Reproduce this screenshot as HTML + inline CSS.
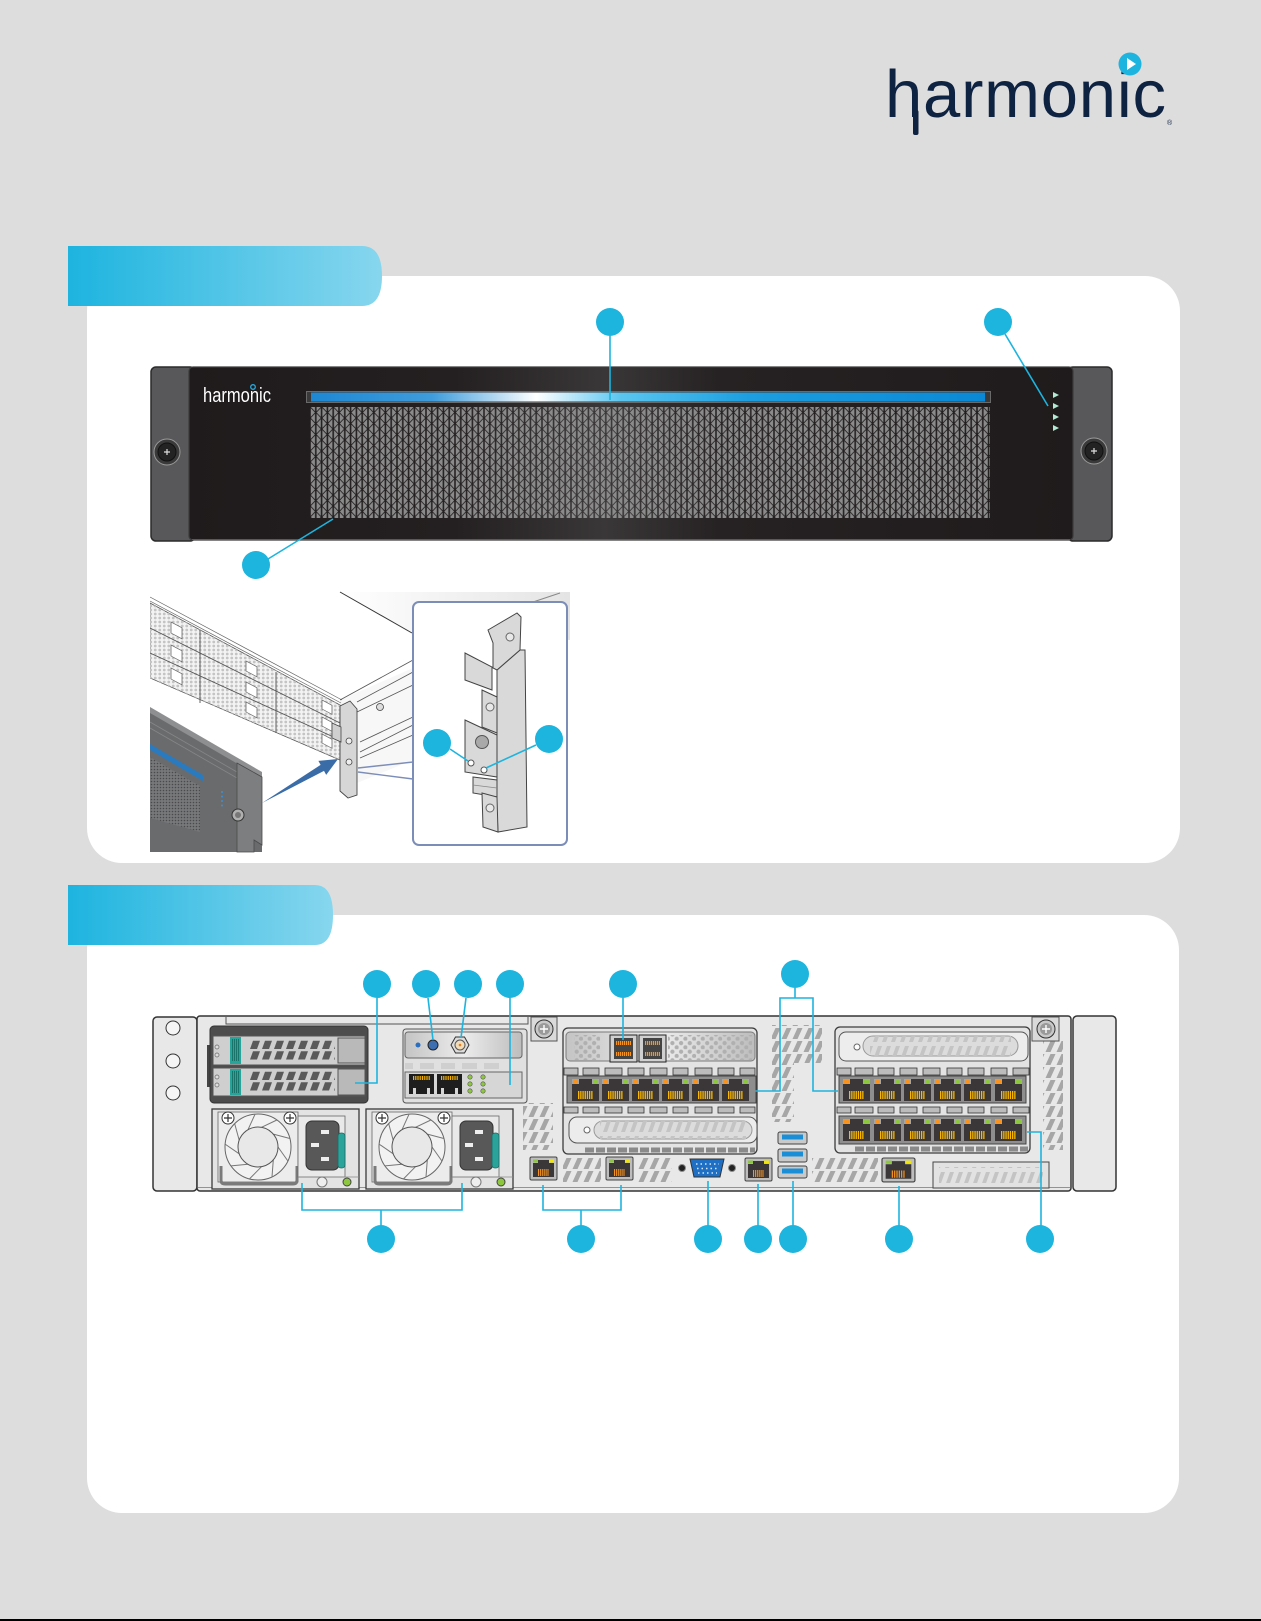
<!DOCTYPE html>
<html><head><meta charset="utf-8">
<style>html,body{margin:0;padding:0;background:#dddddd;}svg{display:block}</style>
</head>
<body>
<svg width="1261" height="1621" viewBox="0 0 1261 1621" xmlns="http://www.w3.org/2000/svg">
<defs>
 <linearGradient id="tab" x1="0" x2="1" y1="0" y2="0"><stop offset="0" stop-color="#1db4df"/><stop offset="1" stop-color="#87d6ee"/></linearGradient>
 <linearGradient id="panel" x1="0" x2="1" y1="0" y2="0">
  <stop offset="0" stop-color="#1f1b1c"/><stop offset="0.3" stop-color="#242021"/><stop offset="0.47" stop-color="#3a3738"/><stop offset="0.6" stop-color="#262223"/><stop offset="1" stop-color="#1f1b1c"/>
 </linearGradient>
 <linearGradient id="bar" x1="0" x2="1" y1="0" y2="0">
  <stop offset="0" stop-color="#1e88d4"/><stop offset="0.18" stop-color="#3f9cdc"/><stop offset="0.334" stop-color="#ffffff"/><stop offset="0.46" stop-color="#5ac6f0"/><stop offset="0.65" stop-color="#1c9ee0"/><stop offset="1" stop-color="#0a88d5"/>
 </linearGradient>
 <linearGradient id="plate" x1="0" x2="1" y1="0" y2="0">
  <stop offset="0" stop-color="#c4c4c4"/><stop offset="0.5" stop-color="#ececec"/><stop offset="1" stop-color="#bdbdbd"/>
 </linearGradient>
 <linearGradient id="topg" x1="0" x2="1" y1="0" y2="0">
  <stop offset="0" stop-color="#ffffff"/><stop offset="1" stop-color="#e4e4e4"/>
 </linearGradient>
 <pattern id="tri" patternUnits="userSpaceOnUse" x="310" y="407" width="11.6" height="11">
  <g fill="#8b8b8b">
   <polygon points="0.8,1.1 0.8,9.9 4.9,5.5"/>
   <polygon points="5.0,-4.4 5.0,4.4 0.9,0"/>
   <polygon points="5.0,6.6 5.0,15.4 0.9,11"/>
   <polygon points="6.6,-4.4 6.6,4.4 10.7,0"/>
   <polygon points="6.6,6.6 6.6,15.4 10.7,11"/>
   <polygon points="10.8,1.1 10.8,9.9 6.7,5.5"/>
  </g>
 </pattern>
 <pattern id="mesh" patternUnits="userSpaceOnUse" width="4.5" height="4">
  <circle cx="2.25" cy="2" r="1.4" fill="#c4c4c4"/>
 </pattern>
 <pattern id="bdots" patternUnits="userSpaceOnUse" width="3" height="3">
  <circle cx="1.5" cy="1.5" r="0.8" fill="#4a4a4c"/>
 </pattern>
 <pattern id="vent" patternUnits="userSpaceOnUse" width="11" height="13">
  <polygon points="0.5,12 5.5,1 10.5,1 5.5,12" fill="#a6a6a6"/>
 </pattern>
 <pattern id="bh" patternUnits="userSpaceOnUse" width="9" height="18">
  <polygon points="0,16 5,2 9,2 4,16" fill="#c4c4c4"/>
 </pattern>
 <pattern id="dslot" patternUnits="userSpaceOnUse" x="250" y="1040" width="12" height="10.5">
  <polygon points="0,9 3,0.8 10,0.8 7,9" fill="#5a5a5a"/>
 </pattern>
 <pattern id="dslot2" patternUnits="userSpaceOnUse" x="250" y="1071" width="12" height="10.5">
  <polygon points="0,9 3,0.8 10,0.8 7,9" fill="#5a5a5a"/>
 </pattern>
 <pattern id="qdots" patternUnits="userSpaceOnUse" width="8.7" height="8.6">
  <circle cx="2.5" cy="2.5" r="2.1" fill="#b0b0b0"/>
  <circle cx="6.8" cy="6.8" r="2.1" fill="#b0b0b0"/>
 </pattern>
 <g id="rj">
  <rect width="27" height="22" fill="#3b3738"/>
  <rect x="0" y="0" width="7" height="5" fill="#a6a6a6"/>
  <rect x="20" y="0" width="7" height="5" fill="#a6a6a6"/>
  <rect x="1" y="1" width="5" height="3" fill="#f7931e"/>
  <rect x="21" y="1" width="5" height="3" fill="#8dc63f"/>
  <line x1="6" y1="16" x2="21" y2="16" stroke="#fbb800" stroke-width="8" stroke-dasharray="1.3 0.9"/>
 </g>
 <g id="rjs">
  <rect width="27" height="23" rx="1.5" fill="#bdbdbd" stroke="#444" stroke-width="1"/>
  <path d="M3 6 H8 V3 H19 V6 H24 V20 H3 Z" fill="#3b3738"/>
  <rect x="3" y="2.5" width="5" height="3" fill="#8dc63f"/>
  <rect x="19" y="2.5" width="5" height="3" fill="#f2e600"/>
  <line x1="8" y1="15.5" x2="19" y2="15.5" stroke="#f7931e" stroke-width="7" stroke-dasharray="1 0.9"/>
 </g>
 <g id="psu">
  <rect x="0" y="0" width="147" height="80" fill="#e3e3e3" stroke="#3a3a3a" stroke-width="1.3"/>
  <rect x="6" y="3" width="80" height="70" fill="#ececec" stroke="#666" stroke-width="0.8"/>
  <circle cx="46" cy="38" r="33" fill="#f2f2f2" stroke="#666" stroke-width="1"/>
  <g stroke="#777" stroke-width="1" fill="none">
   <path d="M66 38 L75.9 52"/><path d="M61.3 50.9 L60 67.9"/><path d="M49.5 57.7 L37.5 69.9"/>
   <path d="M36 55.3 L19 56.9"/><path d="M27.2 44.8 L13.1 35.1"/><path d="M27.2 31.2 L22.7 14.7"/>
   <path d="M36 20.7 L43.1 5.1"/><path d="M49.5 18.3 L64.9 11"/><path d="M61.3 25.1 L77.9 29.5"/>
  </g>
  <circle cx="46" cy="38" r="20" fill="#e8e8e8" stroke="#555" stroke-width="1"/>
  <circle cx="16" cy="9" r="6" fill="#fff" stroke="#333"/>
  <path d="M12 9 H20 M16 5 V13" stroke="#333" stroke-width="1.2"/>
  <circle cx="78" cy="9" r="6" fill="#fff" stroke="#333"/>
  <path d="M74 9 H82 M78 5 V13" stroke="#333" stroke-width="1.2"/>
  <path d="M9 57 V71 Q9 75 13 75 H81 Q85 75 85 71 V57" stroke="#7a7a7a" stroke-width="3" fill="none"/>
  <rect x="86" y="7" width="47" height="61" fill="#e9e9e9" stroke="#666" stroke-width="0.8"/>
  <rect x="94" y="12" width="33" height="49" rx="6" fill="#585858" stroke="#333"/>
  <rect x="109" y="21" width="8" height="4" fill="#eee"/>
  <rect x="99" y="34" width="8" height="4" fill="#eee"/>
  <rect x="109" y="48" width="8" height="4" fill="#eee"/>
  <rect x="126" y="24" width="7" height="35" rx="3" fill="#2aa39a" stroke="#1d6b63" stroke-width="0.8"/>
  <line x1="86" y1="68" x2="147" y2="68" stroke="#888" stroke-width="0.8"/>
  <circle cx="110" cy="73" r="5" fill="#eee" stroke="#777"/>
  <circle cx="135" cy="73" r="4" fill="#8dc63f" stroke="#444"/>
 </g>
 <clipPath id="chclip"><rect x="150" y="585" width="420" height="277"/></clipPath>
</defs>

<!-- background -->
<rect x="0" y="0" width="1261" height="1621" fill="#dddddd"/>
<rect x="0" y="1619" width="1261" height="2" fill="#000"/>

<!-- main logo -->
<text x="885" y="117" font-family="Liberation Sans, sans-serif" font-size="67" fill="#0e2241" textLength="281" lengthAdjust="spacing">harmonic</text>
<rect x="913" y="110" width="5.5" height="25" rx="2" fill="#0e2241"/>
<circle cx="1130" cy="64" r="11.5" fill="#1db4df"/>
<polygon points="1127,58 1127,70 1136,64" fill="#fff"/>
<text x="1167" y="125" font-family="Liberation Sans, sans-serif" font-size="7" fill="#0e2241">®</text>

<!-- cards -->
<rect x="87" y="276" width="1093" height="587" rx="35" fill="#ffffff"/>
<rect x="87" y="915" width="1092" height="598" rx="35" fill="#ffffff"/>

<!-- tabs -->
<path d="M68 246 H362 Q382 246 382 276 Q382 306 362 306 H68 Z" fill="url(#tab)"/>
<path d="M68 885 H315 Q333 885 333 915 Q333 945 315 945 H68 Z" fill="url(#tab)"/>

<!-- ===== FRONT PANEL ===== -->
<rect x="151" y="367" width="44" height="174" rx="5" fill="#58585a" stroke="#2b2b2b" stroke-width="1.5"/>
<rect x="1068" y="367" width="44" height="174" rx="5" fill="#58585a" stroke="#2b2b2b" stroke-width="1.5"/>
<rect x="189" y="367" width="884" height="173" rx="4" fill="url(#panel)" stroke="#3c3c3c" stroke-width="1.2"/>
<line x1="192" y1="539.5" x2="1070" y2="539.5" stroke="#5a5a5a" stroke-width="1"/>
<circle cx="167" cy="452" r="13" fill="#3a3a3a" stroke="#9a9a9a" stroke-width="1"/>
<circle cx="167" cy="452" r="9" fill="#232323" stroke="#111"/>
<path d="M164 452h6M167 449v6" stroke="#ddd" stroke-width="1.2"/>
<circle cx="1094" cy="451" r="13" fill="#3a3a3a" stroke="#9a9a9a" stroke-width="1"/>
<circle cx="1094" cy="451" r="9" fill="#232323" stroke="#111"/>
<path d="M1091 451h6M1094 448v6" stroke="#ddd" stroke-width="1.2"/>
<text x="203" y="402" font-family="Liberation Sans, sans-serif" font-size="20" fill="#ffffff" textLength="68" lengthAdjust="spacingAndGlyphs">harmonic</text>
<circle cx="253" cy="387" r="2.3" fill="none" stroke="#29abe2" stroke-width="1.3"/>
<rect x="306.5" y="391.5" width="684" height="11" fill="#3a3a3a" stroke="#6a6a6a" stroke-width="1"/>
<rect x="311" y="392.5" width="674" height="9" fill="url(#bar)"/>
<rect x="310" y="407" width="680" height="111" fill="url(#tri)"/>
<g fill="#b3ead6">
 <polygon points="1053,392 1053,398 1059,395"/>
 <polygon points="1053,403 1053,409 1059,406"/>
 <polygon points="1053,414 1053,420 1059,417"/>
 <polygon points="1053,425 1053,431 1059,428"/>
</g>
<!-- front callouts -->
<g stroke="#1db4de" stroke-width="1.6" fill="none">
 <line x1="610" y1="336" x2="610" y2="400"/>
 <line x1="1005" y1="334" x2="1048" y2="406"/>
 <line x1="333" y1="519" x2="268" y2="559"/>
</g>
<g fill="#1db4de">
 <circle cx="610" cy="322" r="14"/>
 <circle cx="998" cy="322" r="14"/>
 <circle cx="256" cy="565" r="14"/>
</g>

<!-- ===== CHASSIS ILLUSTRATION ===== -->
<g clip-path="url(#chclip)">
 <polygon points="340,592 570,592 570,640 410,633" fill="url(#topg)"/>
 <line x1="340" y1="592" x2="412" y2="633" stroke="#333" stroke-width="1"/>
 <line x1="533" y1="602" x2="560" y2="593" stroke="#888" stroke-width="1"/>
 <polygon points="340,700 413,668 413,760 340,790" fill="#f7f7f7"/>
 <g stroke="#555" stroke-width="0.8">
  <line x1="357" y1="702" x2="413" y2="672"/>
  <line x1="357" y1="712" x2="413" y2="685"/>
  <line x1="360" y1="742" x2="413" y2="717"/>
  <line x1="360" y1="752" x2="413" y2="725"/>
  <line x1="360" y1="758" x2="413" y2="735"/>
  <line x1="340" y1="700" x2="413" y2="660"/>
 </g>
 <circle cx="380" cy="707" r="3.5" fill="#ddd" stroke="#444" stroke-width="0.8"/>
 <g stroke="#666" stroke-width="0.7">
  <line x1="150" y1="597" x2="342" y2="700"/>
  <line x1="150" y1="601" x2="341" y2="703"/>
 </g>
 <polygon points="150,603 340,705 340,760 150,678" fill="#f3f3f3" stroke="#555" stroke-width="0.8"/>
 <polygon points="150,603 340,705 340,760 150,678" fill="url(#mesh)"/>
 <g stroke="#555" stroke-width="0.9">
  <line x1="150" y1="628" x2="340" y2="723"/>
  <line x1="150" y1="653" x2="340" y2="740"/>
  <line x1="200" y1="630" x2="200" y2="703"/>
  <line x1="276" y1="672" x2="276" y2="733"/>
 </g>
 <g fill="#ffffff" stroke="#666" stroke-width="0.8">
  <rect transform="translate(171,622) skewY(28)" width="11" height="11"/>
  <rect transform="translate(171,645) skewY(28)" width="11" height="11"/>
  <rect transform="translate(171,668) skewY(28)" width="11" height="11"/>
  <rect transform="translate(246,661) skewY(28)" width="11" height="10"/>
  <rect transform="translate(246,682) skewY(28)" width="11" height="10"/>
  <rect transform="translate(246,702) skewY(28)" width="11" height="10"/>
  <rect transform="translate(322,700) skewY(28)" width="10" height="9"/>
  <rect transform="translate(322,717) skewY(28)" width="10" height="9"/>
  <rect transform="translate(322,734) skewY(28)" width="10" height="9"/>
 </g>
 <polygon points="340,706 350,701 357,709 357,795 348,798 340,791" fill="#d6d6d6" stroke="#444" stroke-width="0.9"/>
 <polygon points="332,723 341,727 341,742 332,738" fill="#cfcfcf" stroke="#444" stroke-width="0.8"/>
 <circle cx="349" cy="741" r="3" fill="#eee" stroke="#444" stroke-width="0.8"/>
 <circle cx="349" cy="762" r="3" fill="#eee" stroke="#444" stroke-width="0.8"/>
 <polygon points="150,711 262,776 262,852 150,852" fill="#6a6b6d"/>
 <polygon points="150,707 262,772 262,778 150,713" fill="#8e8f91"/>
 <line x1="150" y1="722" x2="237" y2="772" stroke="#858688" stroke-width="0.8"/>
 <line x1="150" y1="728" x2="237" y2="778" stroke="#858688" stroke-width="0.8"/>
 <polygon points="237,763 262,777 262,845 254,840 254,852 237,852" fill="#7d7e80" stroke="#4a4a4a" stroke-width="0.8"/>
 <polygon points="150,744 203,775 203,781 150,750" fill="#2a7abf"/>
 <polygon points="150,757 200,786 200,832 150,818" fill="#77787a"/>
 <polygon points="150,757 200,786 200,832 150,818" fill="url(#bdots)"/>
 <g fill="#3b8fd6">
  <circle cx="222" cy="792" r="1"/><circle cx="222" cy="796.5" r="1"/><circle cx="222" cy="801" r="1"/><circle cx="222" cy="805.5" r="1"/>
 </g>
 <circle cx="238" cy="815" r="6" fill="#b0b0b0" stroke="#333" stroke-width="1"/>
 <circle cx="238" cy="815" r="3" fill="#777"/>
 <polygon points="262,803 320.6,764.9 318.4,760.9 338,759 326.2,774.9 324,770.9" fill="#3a6da8"/>
 <line x1="358" y1="768" x2="413" y2="762" stroke="#7c8db8" stroke-width="1.4"/>
 <line x1="358" y1="772" x2="413" y2="779" stroke="#7c8db8" stroke-width="1.4"/>
</g>

<!-- inset box -->
<rect x="413" y="602" width="154" height="243" rx="6" fill="#ffffff" stroke="#7c8db8" stroke-width="2"/>
<g fill="#d9d9d9" stroke="#444" stroke-width="1">
 <polygon points="497,670 520,650 525,650 527,827 498,832 497,813"/>
 <polygon points="488,630 517,613 521,617 520,650 497,670 493,668 493,643"/>
 <polygon points="465,653 492,667 492,690 465,680"/>
 <polygon points="482,690 497,697 497,733 482,727"/>
 <polygon points="465,720 497,735 497,777 465,772"/>
 <polygon points="473,777 497,780 497,797 473,793"/>
 <polygon points="482,793 497,797 498,832 483,827"/>
</g>
<circle cx="482" cy="742" r="6.5" fill="#a9a9a9" stroke="#555"/>
<circle cx="471" cy="763" r="3" fill="#fff" stroke="#555"/>
<circle cx="484" cy="770" r="3" fill="#fff" stroke="#555"/>
<circle cx="490" cy="707" r="4" fill="#e8e8e8" stroke="#666"/>
<circle cx="490" cy="808" r="4" fill="#e8e8e8" stroke="#666"/>
<circle cx="510" cy="637" r="4" fill="#e8e8e8" stroke="#666"/>
<line x1="473" y1="785" x2="497" y2="788" stroke="#888" stroke-width="0.8"/>
<g stroke="#1db4de" stroke-width="1.6">
 <line x1="450" y1="749" x2="468" y2="761"/>
 <line x1="536" y1="745" x2="486" y2="768"/>
</g>
<circle cx="437" cy="743" r="14" fill="#1db4de"/>
<circle cx="549" cy="739" r="14" fill="#1db4de"/>

<!-- ===== REAR PANEL ===== -->
<rect x="153" y="1017" width="44" height="174" rx="4" fill="#e8e8e8" stroke="#333" stroke-width="1.5"/>
<g fill="#f5f5f5" stroke="#333" stroke-width="1">
 <circle cx="173" cy="1028" r="7"/><circle cx="173" cy="1061" r="7"/><circle cx="173" cy="1093" r="7"/>
</g>
<rect x="197" y="1016" width="874" height="175" rx="3" fill="#e8e8e8" stroke="#333" stroke-width="1.5"/>
<line x1="198" y1="1187.5" x2="1070" y2="1187.5" stroke="#777" stroke-width="0.8"/>
<rect x="1073" y="1016" width="43" height="175" rx="4" fill="#e8e8e8" stroke="#333" stroke-width="1.5"/>
<path d="M226 1017 V1024 H528 V1017" fill="none" stroke="#555" stroke-width="1"/>

<!-- vents -->
<rect x="523" y="1103" width="30" height="47" fill="url(#vent)"/>
<rect x="563" y="1157" width="38" height="26" fill="url(#vent)"/>
<rect x="638" y="1157" width="34" height="26" fill="url(#vent)"/>
<rect x="772" y="1025" width="50" height="38" fill="url(#vent)"/>
<rect x="772" y="1063" width="22" height="59" fill="url(#vent)"/>
<rect x="812" y="1157" width="66" height="26" fill="url(#vent)"/>
<rect x="1043" y="1040" width="20" height="110" fill="url(#vent)"/>

<!-- drive cage -->
<rect x="207" y="1045" width="6" height="42" fill="#444"/>
<rect x="210" y="1026" width="158" height="77" rx="4" fill="#4d4d4d" stroke="#333"/>
<rect x="213" y="1036" width="152" height="29" fill="#cfcfcf" stroke="#555"/>
<rect x="213" y="1068" width="152" height="28" fill="#cfcfcf" stroke="#555"/>
<g fill="#ddd" stroke="#666" stroke-width="0.7">
 <circle cx="217" cy="1047" r="2"/><circle cx="217" cy="1055" r="2"/>
 <circle cx="217" cy="1077" r="2"/><circle cx="217" cy="1085" r="2"/>
</g>
<rect x="230" y="1037" width="11" height="27" fill="#26a69a"/>
<rect x="230" y="1069" width="11" height="26" fill="#26a69a"/>
<line x1="232" y1="1050" x2="239" y2="1050" stroke="#16675f" stroke-width="22" stroke-dasharray="0.8 1.2"/>
<line x1="232" y1="1082" x2="239" y2="1082" stroke="#16675f" stroke-width="22" stroke-dasharray="0.8 1.2"/>
<rect x="250" y="1040" width="85" height="21" fill="url(#dslot)"/>
<rect x="250" y="1071" width="85" height="21" fill="url(#dslot2)"/>
<rect x="338" y="1038" width="27" height="25" fill="#b9b9b9" stroke="#555"/>
<rect x="338" y="1069" width="27" height="26" fill="#b9b9b9" stroke="#555"/>

<!-- IO card -->
<rect x="403" y="1029" width="124" height="74" rx="3" fill="#e0e0e0" stroke="#555"/>
<rect x="405" y="1032" width="117" height="26" rx="3" fill="url(#plate)" stroke="#666"/>
<circle cx="418" cy="1045" r="2.5" fill="#2a6fc0"/>
<circle cx="433" cy="1045" r="5" fill="#3e6fb0" stroke="#222"/>
<polygon points="451,1045 455.5,1037 464.5,1037 469,1045 464.5,1053 455.5,1053" fill="#ddd" stroke="#333"/>
<circle cx="460" cy="1045" r="5" fill="#f0dcb8" stroke="#555"/>
<circle cx="460" cy="1045" r="1.3" fill="#e67e22"/>
<g fill="#cfcfcf">
 <rect x="405" y="1063" width="8" height="6"/><rect x="420" y="1063" width="14" height="6"/><rect x="441" y="1063" width="14" height="6"/><rect x="462" y="1063" width="15" height="6"/><rect x="484" y="1063" width="15" height="6"/>
</g>
<rect x="405" y="1072" width="117" height="26" fill="#d6d6d6" stroke="#666"/>
<rect x="409" y="1074" width="25" height="20" fill="#1e1e1e"/>
<rect x="437" y="1074" width="25" height="20" fill="#1e1e1e"/>
<line x1="413" y1="1078" x2="430" y2="1078" stroke="#f7b400" stroke-width="4" stroke-dasharray="1 0.8"/>
<line x1="441" y1="1078" x2="458" y2="1078" stroke="#f7b400" stroke-width="4" stroke-dasharray="1 0.8"/>
<rect x="413" y="1088" width="17" height="7" fill="#d6d6d6"/>
<rect x="441" y="1088" width="17" height="7" fill="#d6d6d6"/>
<rect x="416" y="1088" width="11" height="6" fill="#1e1e1e"/>
<rect x="444" y="1088" width="11" height="6" fill="#1e1e1e"/>
<g fill="#8dc63f" stroke="#555" stroke-width="0.6">
 <circle cx="470" cy="1077" r="2.2"/><circle cx="470" cy="1084" r="2.2"/><circle cx="470" cy="1091" r="2.2"/>
 <circle cx="483" cy="1077" r="2.2"/><circle cx="483" cy="1084" r="2.2"/><circle cx="483" cy="1091" r="2.2"/>
</g>

<!-- PSUs -->
<use href="#psu" transform="translate(212,1109)"/>
<use href="#psu" transform="translate(366,1109)"/>

<!-- screws -->
<rect x="531" y="1017" width="26" height="24" fill="#dadada" stroke="#555"/>
<circle cx="544" cy="1029" r="9" fill="#c8c8c8" stroke="#333"/>
<circle cx="544" cy="1029" r="6" fill="#9a9a9a"/>
<path d="M540 1029h8M544 1025v8" stroke="#fff" stroke-width="1.4"/>
<rect x="1032" y="1017" width="27" height="24" fill="#dadada" stroke="#555"/>
<circle cx="1046" cy="1029" r="9" fill="#c8c8c8" stroke="#333"/>
<circle cx="1046" cy="1029" r="6" fill="#9a9a9a"/>
<path d="M1042 1029h8M1046 1025v8" stroke="#fff" stroke-width="1.4"/>

<!-- left NIC -->
<rect x="563" y="1028" width="194" height="126" rx="5" fill="#e3e3e3" stroke="#3c3c3c" stroke-width="1.3"/>
<rect x="566" y="1032" width="189" height="29" rx="4" fill="url(#plate)" stroke="#7a7a7a"/>
<rect x="574" y="1035" width="26" height="25" fill="url(#qdots)"/>
<rect x="668" y="1035" width="84" height="25" fill="url(#qdots)"/>
<rect x="610" y="1035" width="27" height="27" fill="#d0d0d0" stroke="#222"/>
<rect x="639" y="1035" width="27" height="27" fill="#d0d0d0" stroke="#222"/>
<rect x="614" y="1038" width="19" height="21" fill="#444"/>
<rect x="643" y="1038" width="19" height="21" fill="#444"/>
<g stroke="#f7931e" stroke-width="4" stroke-dasharray="1.2 0.8">
 <line x1="616" y1="1043" x2="631" y2="1043"/><line x1="616" y1="1054" x2="631" y2="1054"/>
 <line x1="645" y1="1043" x2="660" y2="1043"/><line x1="645" y1="1054" x2="660" y2="1054"/>
</g>
<g fill="#bcbcbc" stroke="#333" stroke-width="0.8">
 <rect x="564" y="1068" width="14" height="7"/><rect x="583" y="1068" width="16" height="7"/><rect x="605" y="1068" width="17" height="7"/><rect x="628" y="1068" width="16" height="7"/><rect x="650" y="1068" width="17" height="7"/><rect x="673" y="1068" width="15" height="7"/><rect x="695" y="1068" width="17" height="7"/><rect x="718" y="1068" width="16" height="7"/><rect x="740" y="1068" width="15" height="7"/>
 <rect x="564" y="1107" width="14" height="6"/><rect x="583" y="1107" width="16" height="6"/><rect x="605" y="1107" width="17" height="6"/><rect x="628" y="1107" width="16" height="6"/><rect x="650" y="1107" width="17" height="6"/><rect x="673" y="1107" width="15" height="6"/><rect x="695" y="1107" width="17" height="6"/><rect x="718" y="1107" width="16" height="6"/><rect x="740" y="1107" width="15" height="6"/>
</g>
<rect x="567" y="1076" width="189" height="27" fill="#8e8e8e" stroke="#444"/>
<use href="#rj" x="572" y="1079"/><use href="#rj" x="602" y="1079"/><use href="#rj" x="632" y="1079"/>
<use href="#rj" x="662" y="1079"/><use href="#rj" x="692" y="1079"/><use href="#rj" x="722" y="1079"/>
<rect x="569" y="1117" width="188" height="26" rx="8" fill="#ececec" stroke="#555"/>
<rect x="594" y="1121" width="158" height="18" rx="9" fill="#dcdcdc" stroke="#999"/>
<rect x="600" y="1121" width="146" height="18" fill="url(#bh)"/>
<circle cx="587" cy="1130" r="3" fill="#fff" stroke="#666"/>
<line x1="585" y1="1150" x2="755" y2="1150" stroke="#8a8a8a" stroke-width="5" stroke-dasharray="9 2"/>

<!-- right NIC -->
<rect x="835" y="1027" width="195" height="126" rx="5" fill="#e3e3e3" stroke="#3c3c3c" stroke-width="1.3"/>
<rect x="839" y="1032" width="189" height="29" rx="7" fill="#ededed" stroke="#555"/>
<rect x="863" y="1036" width="155" height="20" rx="10" fill="#dcdcdc" stroke="#999"/>
<rect x="870" y="1036" width="141" height="20" fill="url(#bh)"/>
<circle cx="857" cy="1047" r="3" fill="#fff" stroke="#666"/>
<g fill="#bcbcbc" stroke="#333" stroke-width="0.8">
 <rect x="837" y="1068" width="14" height="7"/><rect x="855" y="1068" width="18" height="7"/><rect x="878" y="1068" width="16" height="7"/><rect x="900" y="1068" width="17" height="7"/><rect x="923" y="1068" width="17" height="7"/><rect x="947" y="1068" width="15" height="7"/><rect x="968" y="1068" width="16" height="7"/><rect x="991" y="1068" width="16" height="7"/><rect x="1013" y="1068" width="16" height="7"/>
 <rect x="837" y="1107" width="14" height="6"/><rect x="855" y="1107" width="18" height="6"/><rect x="878" y="1107" width="16" height="6"/><rect x="900" y="1107" width="17" height="6"/><rect x="923" y="1107" width="17" height="6"/><rect x="947" y="1107" width="15" height="6"/><rect x="968" y="1107" width="16" height="6"/><rect x="991" y="1107" width="16" height="6"/><rect x="1013" y="1107" width="16" height="6"/>
</g>
<rect x="839" y="1076" width="187" height="27" fill="#8e8e8e" stroke="#444"/>
<use href="#rj" x="843" y="1079"/><use href="#rj" x="874" y="1079"/><use href="#rj" x="904" y="1079"/>
<use href="#rj" x="934" y="1079"/><use href="#rj" x="964" y="1079"/><use href="#rj" x="995" y="1079"/>
<rect x="839" y="1116" width="187" height="28" fill="#8e8e8e" stroke="#444"/>
<use href="#rj" x="843" y="1119"/><use href="#rj" x="874" y="1119"/><use href="#rj" x="904" y="1119"/>
<use href="#rj" x="934" y="1119"/><use href="#rj" x="964" y="1119"/><use href="#rj" x="995" y="1119"/>
<line x1="855" y1="1149" x2="1028" y2="1149" stroke="#8a8a8a" stroke-width="5" stroke-dasharray="9 2"/>

<!-- bottom row ports -->
<use href="#rjs" x="530" y="1157"/>
<use href="#rjs" x="606" y="1157"/>
<use href="#rjs" x="745" y="1158"/>
<use href="#rjs" transform="translate(882,1158) scale(1.22,1.04)"/>
<path d="M690 1159 H724 L720 1177 H694 Z" fill="#1f6fc5" stroke="#333"/>
<g stroke="#d7e8f8" stroke-width="1.5" stroke-dasharray="1.5 3">
 <line x1="696" y1="1164" x2="719" y2="1164"/>
 <line x1="697" y1="1168.5" x2="718" y2="1168.5"/>
 <line x1="698" y1="1173" x2="717" y2="1173"/>
</g>
<circle cx="682" cy="1168" r="3.5" fill="#222" stroke="#888"/>
<circle cx="732" cy="1168" r="3.5" fill="#222" stroke="#888"/>
<g fill="#c9c9c9" stroke="#444">
 <rect x="778" y="1132" width="29" height="12" rx="2"/>
 <rect x="778" y="1149" width="29" height="13" rx="2"/>
 <rect x="778" y="1166" width="29" height="12" rx="2"/>
</g>
<g fill="#1a8fd8">
 <rect x="782" y="1134.5" width="21" height="5"/>
 <rect x="782" y="1151.5" width="21" height="5"/>
 <rect x="782" y="1168.5" width="21" height="5"/>
</g>
<rect x="933" y="1162" width="116" height="26" fill="#e2e2e2" stroke="#444"/>
<rect x="939" y="1167" width="104" height="16" fill="url(#bh)"/>

<!-- rear callouts -->
<g stroke="#1db4de" stroke-width="1.6" fill="none">
 <path d="M377 998 V1083 H355"/>
 <line x1="428" y1="998" x2="433" y2="1040"/>
 <line x1="466" y1="998" x2="461" y2="1038"/>
 <line x1="510" y1="998" x2="510" y2="1085"/>
 <line x1="623" y1="998" x2="623" y2="1040"/>
 <path d="M795 988 V998"/>
 <path d="M755 1091 H780 V998 H813 V1091 H838"/>
 <path d="M302 1183 V1210 H462 V1183"/>
 <line x1="381" y1="1210" x2="381" y2="1226"/>
 <path d="M543 1185 V1210 H621 V1185"/>
 <line x1="581" y1="1210" x2="581" y2="1226"/>
 <line x1="708" y1="1181" x2="708" y2="1226"/>
 <line x1="758" y1="1184" x2="758" y2="1226"/>
 <line x1="793" y1="1181" x2="793" y2="1226"/>
 <line x1="899" y1="1186" x2="899" y2="1226"/>
 <path d="M1027 1132 H1041 V1226"/>
</g>
<g fill="#1db4de">
 <circle cx="377" cy="984" r="14"/>
 <circle cx="426" cy="984" r="14"/>
 <circle cx="468" cy="984" r="14"/>
 <circle cx="510" cy="984" r="14"/>
 <circle cx="623" cy="984" r="14"/>
 <circle cx="795" cy="974" r="14"/>
 <circle cx="381" cy="1239" r="14"/>
 <circle cx="581" cy="1239" r="14"/>
 <circle cx="708" cy="1239" r="14"/>
 <circle cx="758" cy="1239" r="14"/>
 <circle cx="793" cy="1239" r="14"/>
 <circle cx="899" cy="1239" r="14"/>
 <circle cx="1040" cy="1239" r="14"/>
</g>
</svg>
</body></html>
